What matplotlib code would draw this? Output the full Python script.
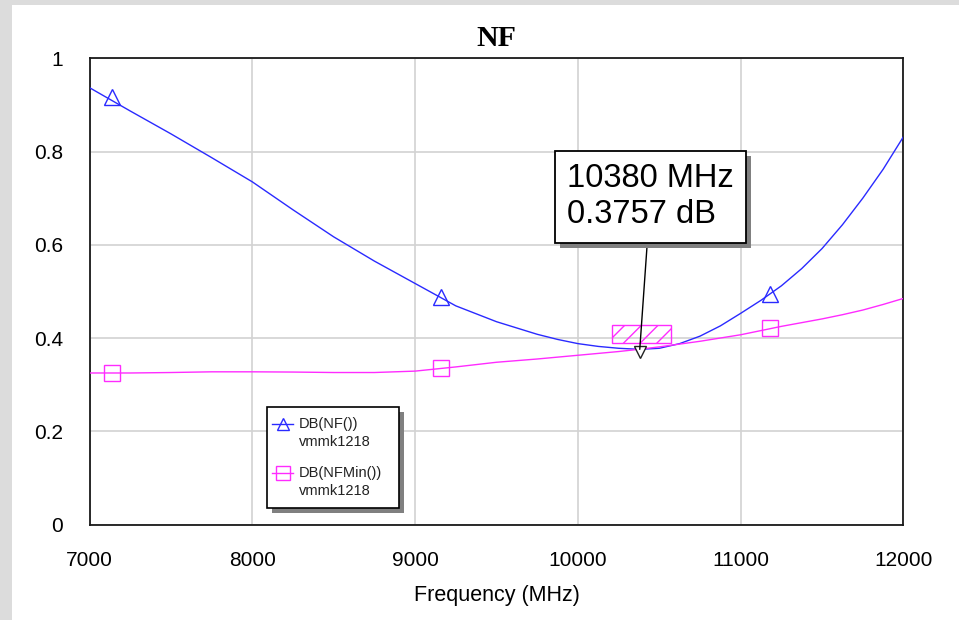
import matplotlib
matplotlib.use("Agg")
import matplotlib.pyplot as plt
import matplotlib.patheffects as pe
from matplotlib.patches import Rectangle
from matplotlib.lines import Line2D

# ---- data ----
freq = [7000, 7250, 7500, 7750, 8000, 8250, 8500, 8750, 9000, 9250, 9500,
        9750, 9875, 10000, 10125, 10250, 10380, 10500, 10625, 10750, 10875, 11000,
        11125, 11250, 11375, 11500, 11625, 11750, 11875, 12000]
nf_db = [0.937, 0.887, 0.838, 0.787, 0.735, 0.675, 0.617, 0.565, 0.517, 0.469, 0.435,
         0.408, 0.397, 0.388, 0.382, 0.378, 0.3757, 0.378, 0.388, 0.404, 0.426, 0.453,
         0.481, 0.512, 0.549, 0.592, 0.643, 0.700, 0.762, 0.832]
nfmin_db = [0.325, 0.325, 0.326, 0.3275, 0.3275, 0.327, 0.326, 0.326, 0.329, 0.338, 0.348,
            0.355, 0.359, 0.363, 0.367, 0.371, 0.376, 0.381, 0.387, 0.393, 0.400, 0.407,
            0.416, 0.425, 0.433, 0.441, 0.450, 0.460, 0.472, 0.485]

marker_freq = [7140, 9160, 11182]
nf_marker_vals = [0.917, 0.489, 0.495]
nfmin_marker_vals = [0.325, 0.336, 0.421]

cursor_freq = 10380
cursor_val = 0.3757
cursor_label = "10380 MHz\n0.3757 dB"

xticks = [7000, 8000, 9000, 10000, 11000, 12000]
yticks = [0, 0.2, 0.4, 0.6, 0.8, 1]
ytick_labels = ["0", "0.2", "0.4", "0.6", "0.8", "1"]

series_names = ["DB(NF())", "DB(NFMin())"]
series_source = ["vmmk1218", "vmmk1218"]
title = "NF"
xlabel = "Frequency (MHz)"

BLUE = "#2a2aff"
MAG = "#ff2bff"

# ---- figure ----
W, H = 959, 620
fig = plt.figure(figsize=(W / 100, H / 100), dpi=100, facecolor="white")
fig.patches.append(Rectangle((0, 0), 12 / W, 1, transform=fig.transFigure,
                             facecolor="#dcdcdc", edgecolor="none", zorder=-10))
fig.patches.append(Rectangle((0, 1 - 5 / H), 1, 5 / H, transform=fig.transFigure,
                             facecolor="#dcdcdc", edgecolor="none", zorder=-10))

AX_L, AX_R, AX_T, AX_B = 89.5, 903.5, 58.3, 524.5
ax = fig.add_axes([AX_L / W, 1 - AX_B / H, (AX_R - AX_L) / W, (AX_B - AX_T) / H])
ax.set_facecolor("white")


def afrac(px, py):
    return (px - AX_L) / (AX_R - AX_L), (AX_B - py) / (AX_B - AX_T)


ax.plot(freq, nf_db, color=BLUE, lw=1.0, zorder=3)
ax.plot(freq, nfmin_db, color=MAG, lw=1.0, zorder=3)
ax.plot(marker_freq, nf_marker_vals, ls="none", marker="^", ms=11, mfc="none",
        mec=BLUE, mew=1.0, zorder=4)
ax.plot(marker_freq, nfmin_marker_vals, ls="none", marker="s", ms=11, mfc="none",
        mec=MAG, mew=1.0, zorder=4)

# hatched marker region
ax.add_patch(Rectangle((cursor_freq - 168, cursor_val + 0.014), 358, 0.039,
                       facecolor="none", edgecolor=MAG, hatch="//", lw=1.0, zorder=3))
# cursor marker
ax.plot([cursor_freq], [cursor_val - 0.005], ls="none", marker="v", ms=9, mfc="white",
        mec="#222222", mew=1.0, zorder=5)

ann = ax.annotate(cursor_label, xy=(cursor_freq, cursor_val), xytext=(10446, 0.703),
                  textcoords="data", ha="center", va="center", multialignment="left",
                  fontsize=23.5, family="Liberation Sans", linespacing=1.22, color="black",
                  bbox=dict(boxstyle="square,pad=0.38", fc="white", ec="black", lw=1.3),
                  arrowprops=dict(arrowstyle="-", color="black", lw=1.0,
                                  shrinkA=0, shrinkB=0), zorder=6)
ann.get_bbox_patch().set_path_effects([
    pe.SimplePatchShadow(offset=(3.5, -3.5), shadow_rgbFace="#808080", alpha=1.0),
    pe.Normal()])

ax.set_xlim(7000, 12000)
ax.set_ylim(0, 1)
ax.set_xticks(xticks)
ax.set_xticklabels([str(v) for v in xticks])
ax.set_yticks(yticks)
ax.set_yticklabels(ytick_labels)
ax.tick_params(axis="both", length=0, labelsize=15)
ax.tick_params(axis="x", pad=19)
ax.tick_params(axis="y", pad=19)
for lab in ax.get_xticklabels() + ax.get_yticklabels():
    lab.set_family("Liberation Sans")
ax.grid(True, color="#d2d2d2", lw=1.2)
ax.set_axisbelow(True)
for s in ax.spines.values():
    s.set_color("#1a1a1a")
    s.set_linewidth(1.3)

ax.set_title(title, family="Liberation Serif", fontweight="bold", fontsize=21.5, pad=9)
ax.set_xlabel(xlabel, family="Liberation Sans", fontsize=15.5, labelpad=11)

# ---- legend (drawn manually, AWR style) ----
x0, y0 = afrac(266.7, 508)
x1, y1 = afrac(399.3, 407)
frame = Rectangle((x0, y0), x1 - x0, y1 - y0, transform=ax.transAxes,
                  facecolor="white", edgecolor="black", lw=1.2, zorder=7)
frame.set_path_effects([
    pe.SimplePatchShadow(offset=(3.5, -3.5), shadow_rgbFace="#808080", alpha=1.0),
    pe.Normal()])
ax.add_patch(frame)
entry_rows = [(424, 442), (473, 491)]
styles = [(BLUE, "^", 8), (MAG, "s", 10)]
for (r1, r2), name, src, (col, mk, ms) in zip(entry_rows, series_names, series_source, styles):
    hx0, hy = afrac(272, r1)
    hx1, _ = afrac(293, r1)
    ax.add_line(Line2D([hx0, hx1], [hy, hy], transform=ax.transAxes, color=col, lw=1.0,
                       zorder=8))
    ax.add_line(Line2D([(hx0 + hx1) / 2], [hy], transform=ax.transAxes, ls="none",
                       marker=mk, ms=ms, mfc="none", mec=col, mew=1.0, zorder=8))
    tx, ty1 = afrac(299, r1)
    _, ty2 = afrac(299, r2)
    ax.text(tx, ty1, name, transform=ax.transAxes, ha="left", va="center",
            family="Liberation Sans", fontsize=10.5, color="#222222", zorder=8)
    ax.text(tx, ty2, src, transform=ax.transAxes, ha="left", va="center",
            family="Liberation Sans", fontsize=10.5, color="#222222", zorder=8)

fig.savefig("out.png", dpi=100, facecolor=fig.get_facecolor())
